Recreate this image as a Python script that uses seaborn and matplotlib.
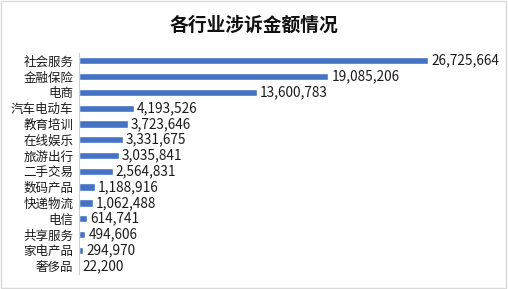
import matplotlib
matplotlib.use("Agg")
import matplotlib.pyplot as plt
import seaborn as sns
import pandas as pd

# 各行业涉诉金额
industries = ["社会服务", "金融保险", "电商", "汽车电动车", "教育培训", "在线娱乐", "旅游出行",
              "二手交易", "数码产品", "快递物流", "电信", "共享服务", "家电产品", "奢侈品"]
amounts = [26725664, 19085206, 13600783, 4193526, 3723646, 3331675, 3035841,
           2564831, 1188916, 1062488, 614741, 494606, 294970, 22200]

df = pd.DataFrame({"行业": industries, "金额": amounts})

sns.set_theme(style="white")
plt.rcParams["font.family"] = ["Noto Sans CJK SC", "DejaVu Sans"]

fig = plt.figure(figsize=(5.08, 2.89), dpi=100)
ax = fig.add_axes([0.1555, 0.052, 0.772, 0.765])
sns.barplot(data=df, y="行业", x="金额", orient="h", color="#4472C4",
            width=0.46, saturation=1, ax=ax)

for i, v in enumerate(amounts):
    ax.text(v + 250000, i, f"{v:,}", va="center", ha="left", fontsize=9.8, color="#1a1a1a")

ax.set_xlim(0, 30000000)
ax.set_ylim(13.5, -0.5)
ax.set_xlabel("")
ax.set_ylabel("")
ax.set_xticks([])
ax.tick_params(axis="y", length=0, pad=4, labelsize=9, labelcolor="#1a1a1a")
for s in ["top", "right", "bottom"]:
    ax.spines[s].set_visible(False)
ax.spines["left"].set_color("#D0D0D0")
ax.spines["left"].set_linewidth(0.8)

fig.text(0.5, 0.913, "各行业涉诉金额情况", ha="center", va="center",
         fontsize=13.5, fontweight="bold", color="#111111")

fig.patches.append(plt.Rectangle((0.002, 0.003), 0.995, 0.993, transform=fig.transFigure,
                                 fill=False, edgecolor="#D9D9D9", linewidth=1))

fig.savefig("out.png", dpi=100)
